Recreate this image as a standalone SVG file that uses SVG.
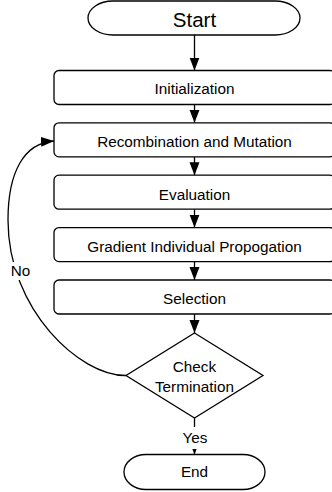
<svg xmlns="http://www.w3.org/2000/svg" width="332" height="492" viewBox="0 0 332 492">
<style>
.s{fill:#fff;stroke:#000;stroke-width:1.3}
.t{font-family:"Liberation Sans",Arial,sans-serif;font-size:15.3px;fill:#000;text-anchor:middle}
.c{fill:none;stroke:#000;stroke-width:1.3}
</style>
<defs>
<marker id="ah" markerUnits="userSpaceOnUse" markerWidth="14" markerHeight="11" refX="13" refY="5" orient="auto">
<path d="M0,0 L13,5 L0,10 z" fill="#000"/>
</marker>
</defs>
<rect width="332" height="492" fill="#fff"/>
<g id="connectors">
<line class="c" x1="194.5" y1="35" x2="194.5" y2="70.5" marker-end="url(#ah)"/>
<line class="c" x1="194.5" y1="104.5" x2="194.5" y2="122.8" marker-end="url(#ah)"/>
<line class="c" x1="194.5" y1="156.8" x2="194.5" y2="175.2" marker-end="url(#ah)"/>
<line class="c" x1="194.5" y1="209.2" x2="194.5" y2="227.6" marker-end="url(#ah)"/>
<line class="c" x1="194.5" y1="261.6" x2="194.5" y2="280" marker-end="url(#ah)"/>
<line class="c" x1="194.5" y1="314" x2="194.5" y2="333" marker-end="url(#ah)"/>
<line class="c" x1="194.5" y1="418" x2="194.5" y2="454.5" marker-end="url(#ah)"/>
<path class="c" d="M126,375.5 C80,376 8,310 8,220 C8,172 24,143 54,141" marker-end="url(#ah)"/>
<rect x="10" y="262" width="21" height="18" fill="#fff"/>
<text class="t" x="20.5" y="275.5">No</text>
<rect x="180" y="427" width="30" height="22" fill="#fff"/>
<text class="t" x="195" y="443">Yes</text>
</g>
<g id="start">
<rect class="s" x="88" y="1" width="212" height="34" rx="25" ry="17"/>
<text class="t" x="194.5" y="27" style="font-size:20.5px">Start</text>
</g>
<g id="init">
<rect class="s" x="54" y="70.5" width="281" height="34" rx="5"/>
<text class="t" x="194.5" y="93.5">Initialization</text>
</g>
<g id="recomb">
<rect class="s" x="54" y="122.8" width="281" height="34" rx="5"/>
<text class="t" x="194.5" y="146.5">Recombination and Mutation</text>
</g>
<g id="eval">
<rect class="s" x="54" y="175.2" width="281" height="34" rx="5"/>
<text class="t" x="194.5" y="199.5">Evaluation</text>
</g>
<g id="gradient">
<rect class="s" x="54" y="227.6" width="281" height="34" rx="5"/>
<text class="t" x="194.5" y="251.5">Gradient Individual Propogation</text>
</g>
<g id="selection">
<rect class="s" x="54" y="280" width="281" height="34" rx="5"/>
<text class="t" x="194.5" y="303.5">Selection</text>
</g>
<g id="check">
<polygon class="s" points="194.5,333 263,375.5 194.5,418 126,375.5"/>
<text class="t" x="194.5" y="372">Check</text>
<text class="t" x="194.5" y="392">Termination</text>
</g>
<g id="end">
<rect class="s" x="124" y="454.5" width="141" height="35" rx="22" ry="17.5"/>
<text class="t" x="194.5" y="477">End</text>
</g>
</svg>
